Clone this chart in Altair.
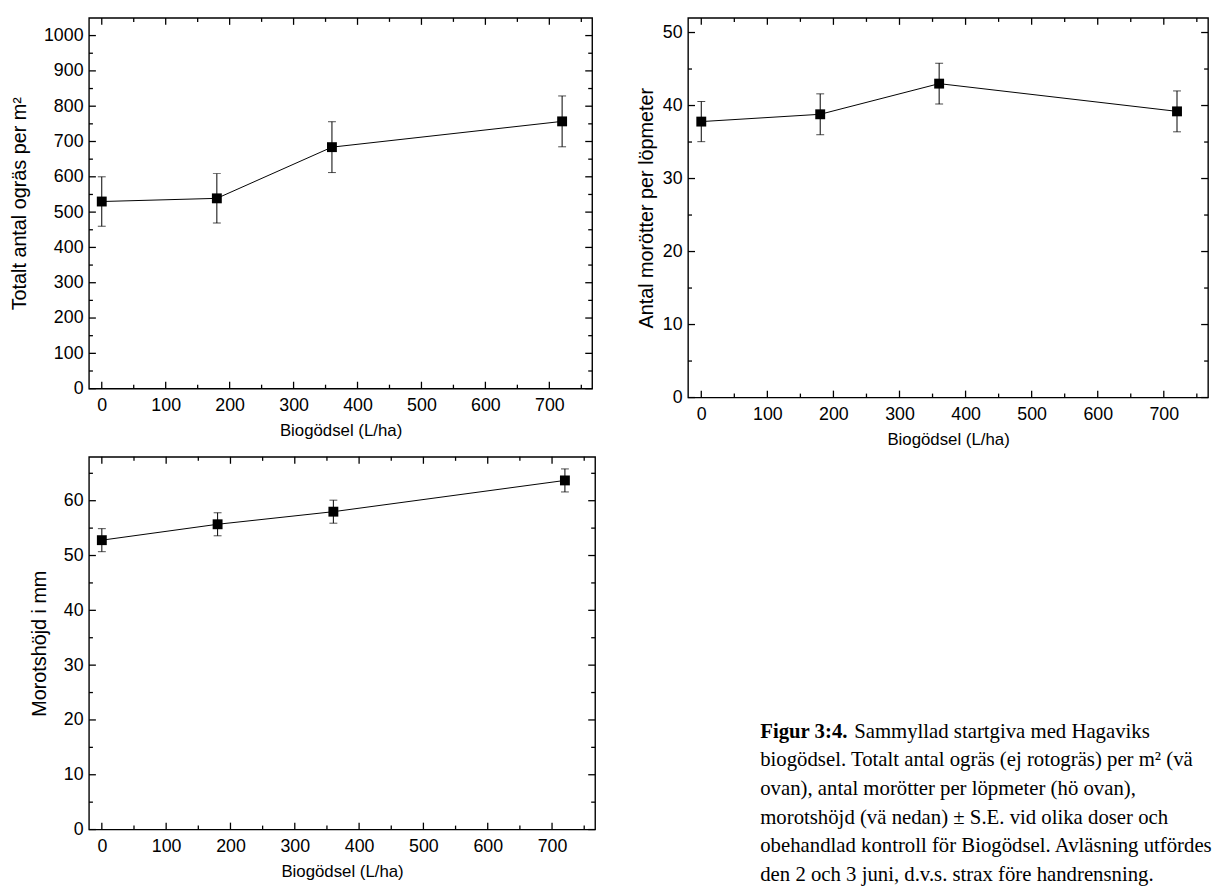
import altair as alt
import pandas as pd

# ---------------- data ----------------
dose = [0, 180, 360, 720]

weeds = [530, 539, 684, 757]
weeds_se = [70, 70, 72, 72]

carrots = [37.8, 38.8, 43.0, 39.2]
carrots_se = [2.75, 2.8, 2.8, 2.8]

height_mm = [52.8, 55.7, 58.0, 63.7]
height_se = [2.1, 2.1, 2.1, 2.1]

x_major = [0, 100, 200, 300, 400, 500, 600, 700]
x_minor = [50, 150, 250, 350, 450, 550, 650, 750]

weeds_major = [0, 100, 200, 300, 400, 500, 600, 700, 800, 900, 1000]
weeds_minor = [50, 150, 250, 350, 450, 550, 650, 750, 850, 950]
carrots_major = [0, 10, 20, 30, 40, 50]
carrots_minor = [5, 15, 25, 35, 45]
height_major = [0, 10, 20, 30, 40, 50, 60]
height_minor = [5, 15, 25, 35, 45, 55, 65]

x_title = "Biogödsel (L/ha)"
caption_bold = "Figur 3:4."
caption_lines = [
    "Sammyllad startgiva med Hagaviks",
    "biogödsel. Totalt antal ogräs (ej rotogräs) per m² (vä",
    "ovan), antal morötter per löpmeter (hö ovan),",
    "morotshöjd (vä nedan) ± S.E. vid olika doser och",
    "obehandlad kontroll för Biogödsel. Avläsning utfördes",
    "den 2 och 3 juni, d.v.s. strax före handrensning.",
]

SANS = "Liberation Sans"
SERIF = "Liberation Serif"


def panel(vals, se, ydom, ymaj, ymin, ytitle, W, H, tpad):
    df = pd.DataFrame({"x": dose, "y": vals,
                       "lo": [v - e for v, e in zip(vals, se)],
                       "hi": [v + e for v, e in zip(vals, se)]})
    sx = alt.Scale(domain=[-20, 767], nice=False, zero=False)
    sy = alt.Scale(domain=ydom, nice=False, zero=False)
    xaxis = alt.Axis(title=x_title, values=x_major, format="d", labelPadding=8,
                     titlePadding=8, ticks=False, tickSize=0, domain=False, grid=False)
    yaxis = alt.Axis(title=ytitle, values=ymaj, format="d", labelPadding=6,
                     titlePadding=tpad, ticks=False, tickSize=0, domain=False, grid=False)

    def X(f="x"):
        return alt.X(f + ":Q", scale=sx, axis=xaxis)

    def Y(f="y"):
        return alt.Y(f + ":Q", scale=sy, axis=yaxis)

    base = alt.Chart(df)
    line = base.mark_line(color="black", strokeWidth=1).encode(x=X(), y=Y())
    err = base.mark_rule(color="black", strokeWidth=1).encode(x=X(), y=Y("lo"), y2="hi:Q")
    cap_lo = base.mark_tick(orient="horizontal", size=8, thickness=1, color="black").encode(x=X(), y=Y("lo"))
    cap_hi = base.mark_tick(orient="horizontal", size=8, thickness=1, color="black").encode(x=X(), y=Y("hi"))
    pts = base.mark_square(size=100, color="black", opacity=1).encode(x=X(), y=Y())

    xmaj = alt.Chart(pd.DataFrame({"x": x_major}))
    xmin = alt.Chart(pd.DataFrame({"x": x_minor}))
    ymj = alt.Chart(pd.DataFrame({"y": ymaj}))
    ymn = alt.Chart(pd.DataFrame({"y": ymin}))
    r = dict(color="black", strokeWidth=1.3)
    ticks = [
        xmaj.mark_rule(**r).encode(x=X(), y=alt.value(H), y2=alt.value(H - 7)),
        xmaj.mark_rule(**r).encode(x=X(), y=alt.value(0), y2=alt.value(7)),
        xmin.mark_rule(**r).encode(x=X(), y=alt.value(H), y2=alt.value(H - 4)),
        xmin.mark_rule(**r).encode(x=X(), y=alt.value(0), y2=alt.value(4)),
        ymj.mark_rule(**r).encode(y=Y(), x=alt.value(0), x2=alt.value(7)),
        ymj.mark_rule(**r).encode(y=Y(), x=alt.value(W), x2=alt.value(W - 7)),
        ymn.mark_rule(**r).encode(y=Y(), x=alt.value(0), x2=alt.value(4)),
        ymn.mark_rule(**r).encode(y=Y(), x=alt.value(W), x2=alt.value(W - 4)),
    ]
    return alt.layer(line, err, cap_lo, cap_hi, pts, *ticks).properties(width=W, height=H)


p1 = panel(weeds, weeds_se, [0, 1050], weeds_major, weeds_minor,
           "Totalt antal ogräs per m²", 509, 375, 14)
p2 = panel(carrots, carrots_se, [0, 52], carrots_major, carrots_minor,
           "Antal morötter per löpmeter", 526, 384, 6)
p3 = panel(height_mm, height_se, [0, 68], height_major, height_minor,
           "Morotshöjd i mm", 512, 377, 14)

cap_df = pd.DataFrame({"t": caption_lines, "i": list(range(len(caption_lines)))})
cap_df["py"] = 278 + 29 * cap_df["i"]
cap_df["px"] = [73 + 95] + [73] * (len(caption_lines) - 1)
bold_df = pd.DataFrame({"t": [caption_bold], "py": [278], "px": [73]})

cap_rest = alt.Chart(cap_df).mark_text(font=SERIF, fontSize=21, align="left",
                                       baseline="middle", color="black").encode(
    x=alt.X("px:Q", scale=None, axis=None), y=alt.Y("py:Q", scale=None, axis=None), text="t:N")
cap_bold = alt.Chart(bold_df).mark_text(font=SERIF, fontSize=21, fontWeight="bold", align="left",
                                        baseline="middle", color="black").encode(
    x=alt.X("px:Q", scale=None, axis=None), y=alt.Y("py:Q", scale=None, axis=None), text="t:N")
caption = alt.layer(cap_bold, cap_rest).properties(
    width=526, height=377, view=alt.ViewBackground(stroke="transparent", strokeWidth=0))

chart = alt.concat(p1, p2, p3, caption, columns=2, bounds="flush",
                   spacing={"row": 60, "column": 94}).properties(
    padding={"left": 9, "top": 11, "right": 0, "bottom": 0},
    background="white",
).configure_view(
    stroke="black", strokeWidth=1.4
).configure_axis(
    labelFont=SANS, labelFontSize=18, labelColor="black",
    titleFont=SANS, titleFontSize=20, titleFontWeight="normal", titleColor="black",
).configure_axisX(titleFontSize=17)

chart.save("out.html", embed_options={"renderer": "svg", "actions": False})
